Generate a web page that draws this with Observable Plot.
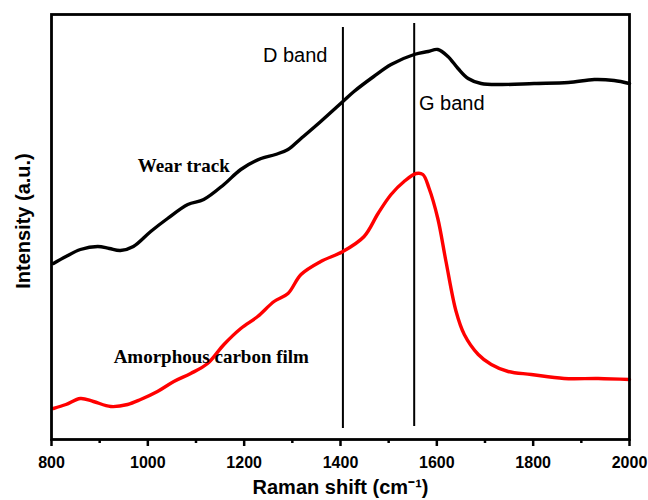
<!DOCTYPE html>
<html><head><meta charset="utf-8">
<script src="https://cdn.jsdelivr.net/npm/d3@7"></script>
<script src="https://cdn.jsdelivr.net/npm/@observablehq/plot@0.6"></script>
<style>body{margin:0;background:#fff}</style>
</head><body><div id="chart"></div>
<script>
// Wear track spectrum (black)
const wearShift = [804, 830, 860, 896, 920, 943, 970, 1006, 1041, 1083, 1116, 1158, 1193, 1235, 1265, 1291, 1318, 1359, 1405, 1428, 1469, 1505, 1553, 1582, 1602, 1623, 1644, 1665, 1692, 1733, 1802, 1873, 1927, 1968, 2000];
const wearIntensity = [176, 183, 190, 193, 191, 189, 193, 208, 221, 235, 240, 255, 270, 281, 285, 290, 301, 318, 338, 348, 363, 375, 385, 388, 390, 383, 371, 361, 356, 355, 356, 357, 360, 359, 356];
// Amorphous carbon film spectrum (red)
const filmShift = [804, 830, 860, 887, 923, 958, 985, 1020, 1054, 1089, 1124, 1158, 1193, 1228, 1262, 1291, 1318, 1359, 1405, 1449, 1478, 1505, 1532, 1557, 1571, 1584, 1602, 1619, 1640, 1657, 1686, 1713, 1748, 1796, 1864, 1935, 2000];
const filmIntensity = [31, 35, 41, 38, 33, 35, 40, 48, 58, 66, 76, 95, 111, 123, 138, 146, 165, 178, 188, 203, 226, 245, 258, 266, 265, 251, 221, 178, 128, 105, 85, 75, 68, 65, 61, 61, 60];
// Band marker lines
const bandShift = [1405, 1553];
const bandTop = [412, 416];
const bandBottom = [11, 13];
// Axis ticks
const majorTicks = [800, 1000, 1200, 1400, 1600, 1800, 2000];
const minorTicks = [900, 1100, 1300, 1500, 1700, 1900];
// Annotations
const labelText = ["D band", "G band"];
const labelShift = [1239, 1563];
const labelIntensity = [384, 336];
const seriesText = ["Wear track", "Amorphous carbon film"];
const seriesShift = [979, 929];
const seriesIntensity = [274, 83];

const wear = wearShift.map((x, i) => ({x, y: wearIntensity[i]}));
const film = filmShift.map((x, i) => ({x, y: filmIntensity[i]}));
const bands = bandShift.map((x, i) => ({x, y1: bandBottom[i], y2: bandTop[i]}));
const labels = labelText.map((t, i) => ({t, x: labelShift[i], y: labelIntensity[i]}));
const series = seriesText.map((t, i) => ({t, x: seriesShift[i], y: seriesIntensity[i]}));

const chart = Plot.plot({
  width: 648, height: 500,
  marginLeft: 51, marginRight: 19, marginTop: 14, marginBottom: 61,
  style: {fontFamily: "Liberation Sans, Arial, sans-serif", fontSize: "16px", background: "#fff", color: "#000"},
  x: {domain: [800, 2000]},
  y: {domain: [0, 425], axis: null},
  marks: [
    Plot.ruleX(bands, {x: "x", y1: "y1", y2: "y2", stroke: "#000", strokeWidth: 2}),
    Plot.line(wear, {x: "x", y: "y", stroke: "#000", strokeWidth: 3.4, curve: "catmull-rom"}),
    Plot.line(film, {x: "x", y: "y", stroke: "#ff0000", strokeWidth: 3.4, curve: "catmull-rom"}),
    Plot.axisX({ticks: majorTicks, tickSize: 7, tickPadding: 10, strokeWidth: 2.5, fontWeight: "bold", fontSize: 16, label: null, tickFormat: d => String(d)}),
    Plot.axisX({ticks: minorTicks, tickSize: 4, strokeWidth: 2.5, tickFormat: () => "", label: null}),
    Plot.frame({stroke: "#000", strokeWidth: 2.8}),
    Plot.text(labels, {x: "x", y: "y", text: "t", textAnchor: "start", fontSize: 20, fill: "#000"}),
    Plot.text(series, {x: "x", y: "y", text: "t", textAnchor: "start", fontSize: 19, fontWeight: "bold", fontFamily: "Liberation Serif, Times New Roman, serif", fill: "#000"}),
    Plot.text(["Raman shift (cm⁻¹)"], {frameAnchor: "bottom", dy: 54, textAnchor: "middle", text: d => d, fontSize: 20, fontWeight: "bold", fill: "#000"}),
    Plot.text(["Intensity (a.u.)"], {frameAnchor: "left", dx: -28, dy: -6, textAnchor: "middle", rotate: -90, text: d => d, fontSize: 20, fontWeight: "bold", fill: "#000"})
  ]
});
document.getElementById("chart").appendChild(chart);
</script>
</body></html>
